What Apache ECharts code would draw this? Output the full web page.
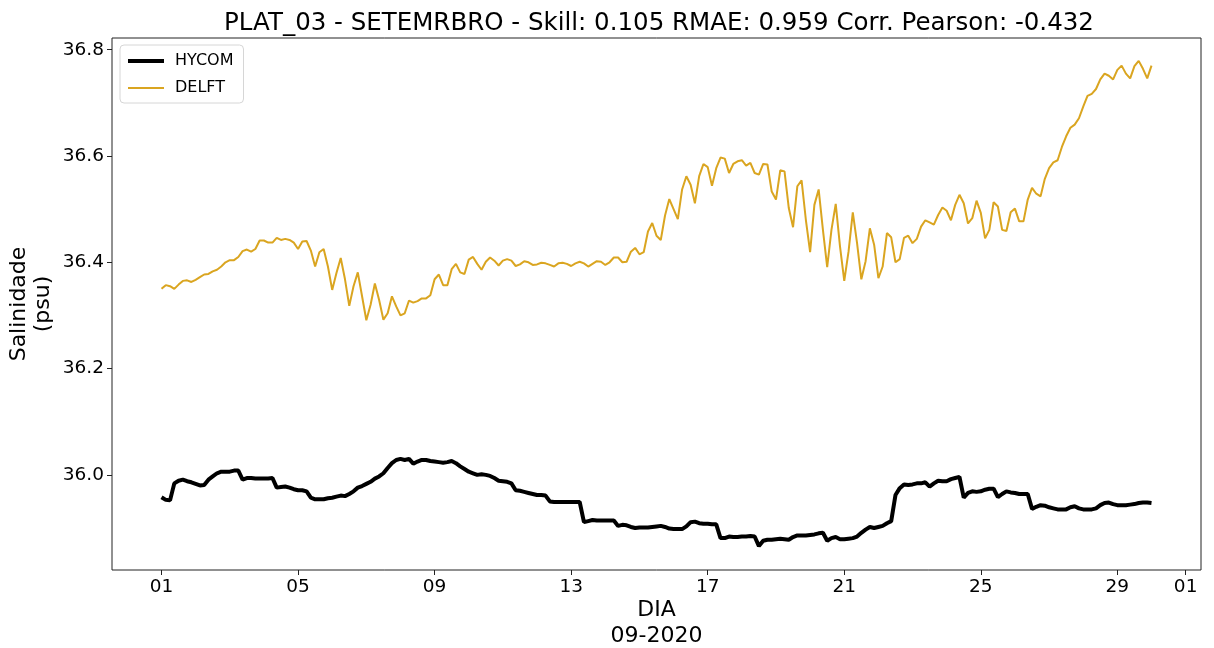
<!DOCTYPE html>
<html>
<head>
<meta charset="utf-8">
<script src="https://cdn.jsdelivr.net/npm/echarts@6/dist/echarts.min.js"></script>
<style>
  html, body { margin: 0; padding: 0; background: #fff; }
  #chart { width: 1214px; height: 648px; }
</style>
</head>
<body>
<div id="chart"></div>
<script>
// 3-hourly series, starting 2020-09-01 00:00 (day 0)
const stepDays = 0.125;

const delft = [
  36.350, 36.357, 36.355, 36.350, 36.358, 36.365, 36.366, 36.363, 36.367, 36.372,
  36.377, 36.378, 36.383, 36.386, 36.392, 36.400, 36.404, 36.404, 36.410, 36.421,
  36.424, 36.420, 36.425, 36.441, 36.441, 36.437, 36.437, 36.446, 36.442, 36.444,
  36.442, 36.437, 36.425, 36.439, 36.440, 36.422, 36.392, 36.419, 36.425, 36.392,
  36.348, 36.380, 36.408, 36.368, 36.318, 36.355, 36.381, 36.336, 36.291, 36.320,
  36.360, 36.329, 36.292, 36.304, 36.336, 36.317, 36.300, 36.304, 36.328, 36.324,
  36.327, 36.332, 36.332, 36.338, 36.368, 36.377, 36.357, 36.357,
  36.387, 36.397, 36.381, 36.378, 36.405, 36.410, 36.397, 36.386, 36.401, 36.409, 36.403, 36.394,
  36.403, 36.406, 36.403, 36.393, 36.396, 36.402, 36.400, 36.395, 36.396, 36.399,
  36.398, 36.395, 36.392, 36.398, 36.399, 36.397, 36.393, 36.398, 36.401, 36.398,
  36.392, 36.397, 36.402, 36.401, 36.395, 36.400, 36.409, 36.409, 36.400, 36.401,
  36.420, 36.427, 36.415, 36.419, 36.458, 36.474, 36.450, 36.442, 36.488, 36.519,
  36.500, 36.481, 36.537, 36.562, 36.546, 36.511, 36.562, 36.585, 36.579, 36.544,
  36.577, 36.597, 36.595, 36.568, 36.585, 36.590, 36.592, 36.582, 36.587, 36.568,
  36.565, 36.585, 36.584, 36.533, 36.518, 36.573, 36.571, 36.502, 36.466, 36.543,
  36.554, 36.480, 36.419, 36.508, 36.537, 36.461, 36.391, 36.461, 36.510, 36.430,
  36.365, 36.420, 36.494, 36.436, 36.368, 36.402, 36.464, 36.433, 36.370, 36.392,
  36.455, 36.447, 36.400, 36.406, 36.446, 36.450, 36.436, 36.444, 36.467, 36.479,
  36.475, 36.471, 36.489, 36.503, 36.497, 36.479, 36.508, 36.527, 36.511, 36.473,
  36.483, 36.516, 36.493, 36.445, 36.461, 36.513, 36.505, 36.461, 36.459, 36.494,
  36.501, 36.477, 36.477, 36.518, 36.540, 36.529, 36.524, 36.557, 36.577, 36.588,
  36.592, 36.617, 36.637, 36.653, 36.659, 36.671, 36.693, 36.713, 36.717, 36.726,
  36.744, 36.755, 36.751, 36.744, 36.762, 36.770, 36.755, 36.746, 36.769, 36.779,
  36.764, 36.746, 36.770
];

const hycom = [
  35.958, 35.953, 35.952, 35.984, 35.989, 35.991, 35.988, 35.986, 35.983, 35.980,
  35.981, 35.991, 35.997, 36.003, 36.006, 36.006, 36.006, 36.008, 36.008, 35.991,
  35.994, 35.994, 35.993, 35.993, 35.993, 35.993, 35.994, 35.976, 35.977, 35.978,
  35.976, 35.973, 35.971, 35.971, 35.969, 35.957, 35.954, 35.954, 35.954, 35.956,
  35.957, 35.959, 35.961, 35.960, 35.964, 35.969, 35.976, 35.979, 35.983, 35.987,
  35.993, 35.997, 36.003, 36.013, 36.022, 36.028, 36.030, 36.028, 36.030, 36.021,
  36.025, 36.028, 36.028, 36.026, 36.025, 36.024, 36.023, 36.024, 36.026, 36.022,
  36.016, 36.011, 36.006, 36.003, 36.000, 36.001, 36.000, 35.998, 35.994, 35.989,
  35.988, 35.987, 35.984, 35.971, 35.970, 35.968, 35.966, 35.964, 35.962, 35.962,
  35.961, 35.950, 35.949, 35.949, 35.949, 35.949, 35.949, 35.949, 35.949, 35.911,
  35.913, 35.915, 35.914, 35.914, 35.914, 35.914, 35.914, 35.904, 35.906, 35.905,
  35.902, 35.900, 35.901, 35.901, 35.901, 35.902, 35.903, 35.904, 35.902, 35.899,
  35.898, 35.898, 35.898, 35.903, 35.911, 35.912, 35.909, 35.908, 35.908, 35.907,
  35.907, 35.881, 35.881, 35.884, 35.883, 35.883, 35.884, 35.884, 35.885, 35.884,
  35.866, 35.876, 35.878, 35.878, 35.879, 35.880, 35.879, 35.878, 35.883, 35.886,
  35.886, 35.886, 35.887, 35.888, 35.890, 35.891, 35.876, 35.881, 35.883, 35.879,
  35.879, 35.880, 35.881, 35.884, 35.891, 35.897, 35.902, 35.900, 35.902, 35.904,
  35.909, 35.913, 35.962, 35.975, 35.982, 35.981, 35.982, 35.984, 35.984, 35.986,
  35.978, 35.984, 35.989, 35.988, 35.988, 35.992, 35.994, 35.996, 35.957, 35.966,
  35.969, 35.968, 35.969, 35.972, 35.974, 35.974, 35.958, 35.964, 35.969, 35.967,
  35.966, 35.964, 35.964, 35.964, 35.936, 35.940, 35.943, 35.942, 35.939, 35.937,
  35.935, 35.935, 35.935, 35.939, 35.941, 35.937, 35.935, 35.935, 35.935, 35.937,
  35.943, 35.947, 35.948, 35.945, 35.943, 35.943, 35.943, 35.944, 35.945, 35.947,
  35.948, 35.948, 35.947
];

// x ticks: days since 2020-09-01 and their labels
const xTickDays = [0, 4, 8, 12, 16, 20, 24, 28, 30];
const xTickLabels = ["01", "05", "09", "13", "17", "21", "25", "29", "01"];
const yTicks = [36.0, 36.2, 36.4, 36.6, 36.8];

const titleText = "PLAT_03 - SETEMRBRO - Skill: 0.105 RMAE: 0.959 Corr. Pearson: -0.432";

const font = "DejaVu Sans";

function toPairs(list) {
  return list.map((v, i) => [i * stepDays, v]);
}

const myChart = echarts.init(document.getElementById("chart"), null, { renderer: "canvas" });

const option = {
  backgroundColor: "#ffffff",
  animation: false,
  title: {
    text: titleText,
    left: 659,
    textAlign: "center",
    top: 11,
    padding: 0,
    textStyle: { fontFamily: font, fontSize: 24.5, fontWeight: "normal", color: "#000" },
  },
  legend: {
    orient: "vertical",
    left: 120,
    top: 45,
    padding: [8, 10, 7, 6],
    itemWidth: 36,
    itemHeight: 14,
    itemGap: 11,
    backgroundColor: "rgba(255,255,255,0.8)",
    borderColor: "#d6d6d6",
    borderWidth: 1,
    borderRadius: 4,
    itemStyle: { opacity: 0 },
    textStyle: { fontFamily: font, fontSize: 16, color: "#000", padding: [0, 0, 0, 6] },
    data: [
      { name: "HYCOM", lineStyle: { width: 4 } },
      { name: "DELFT", lineStyle: { width: 2 } },
    ],
  },
  grid: {
    left: 112,
    right: 13,
    top: 38,
    bottom: 78,
    containLabel: false,
    outerBoundsMode: "none",
    show: true,
    borderColor: "#222",
    borderWidth: 1,
  },
  xAxis: {
    type: "value",
    min: -1.45,
    max: 30.45,
    name: "DIA\n09-2020",
    nameLocation: "middle",
    nameGap: 27,
    nameMoveOverlap: false,
    nameTextStyle: { fontFamily: font, fontSize: 22, color: "#000", lineHeight: 26, verticalAlign: "top" },
    axisLine: { show: false, onZero: false },
    splitLine: { show: false },
    axisTick: { show: true, length: 5, customValues: xTickDays, lineStyle: { color: "#222" } },
    axisLabel: {
      customValues: xTickDays,
      margin: 8,
      fontFamily: font,
      fontSize: 18.5,
      color: "#000",
      formatter: (v) => {
        const i = xTickDays.findIndex((d) => Math.abs(d - v) < 1e-6);
        return i >= 0 ? xTickLabels[i] : "";
      },
    },
  },
  yAxis: {
    type: "value",
    min: 35.821,
    max: 36.822,
    name: "Salinidade\n(psu)",
    nameLocation: "middle",
    nameRotate: 90,
    nameGap: 57,
    nameMoveOverlap: false,
    nameTextStyle: { fontFamily: font, fontSize: 22, color: "#000", lineHeight: 24 },
    axisLine: { show: false, onZero: false },
    splitLine: { show: false },
    axisTick: { show: true, length: 5, customValues: yTicks, lineStyle: { color: "#222" } },
    axisLabel: {
      customValues: yTicks,
      margin: 8,
      fontFamily: font,
      fontSize: 18.5,
      color: "#000",
      formatter: (v) => v.toFixed(1),
    },
  },
  series: [
    {
      name: "HYCOM",
      type: "line",
      symbol: "none",
      data: toPairs(hycom),
      lineStyle: { color: "#000000", width: 4 },
      itemStyle: { color: "#000000" },
      z: 3,
    },
    {
      name: "DELFT",
      type: "line",
      symbol: "none",
      data: toPairs(delft),
      lineStyle: { color: "#DAA520", width: 2 },
      itemStyle: { color: "#DAA520" },
      z: 2,
    },
  ],
};

myChart.setOption(option);
</script>
</body>
</html>
